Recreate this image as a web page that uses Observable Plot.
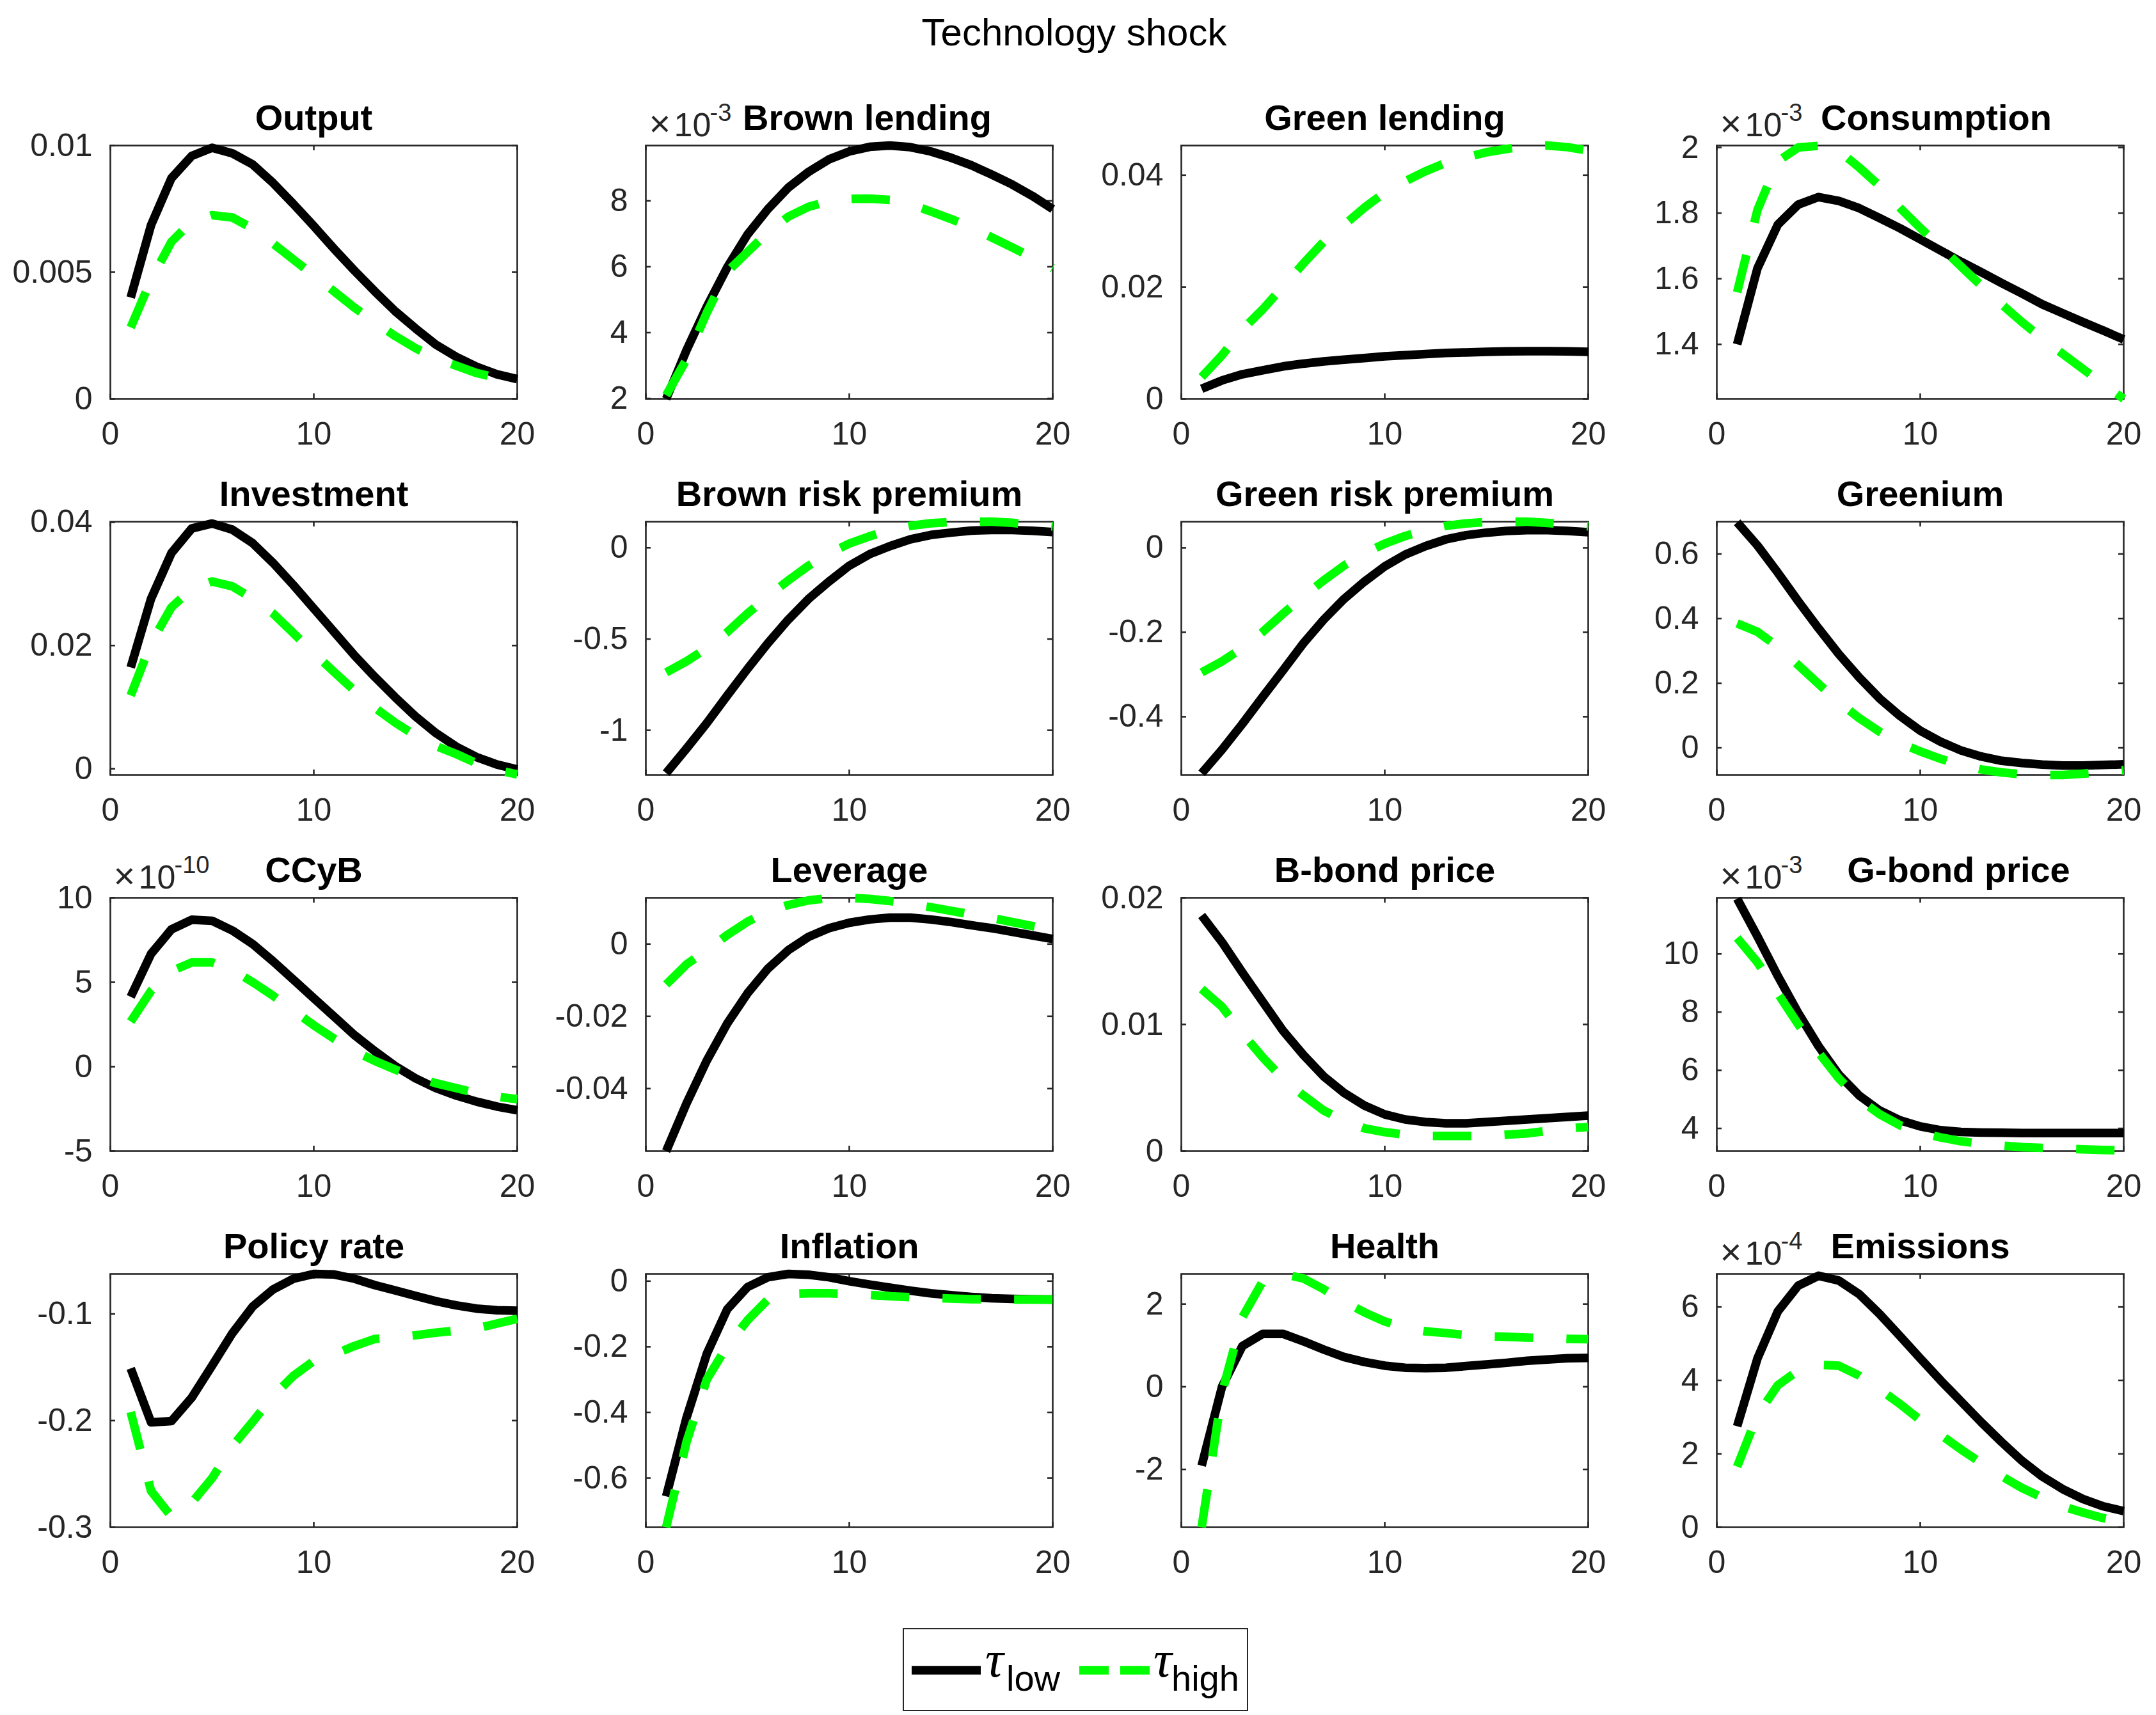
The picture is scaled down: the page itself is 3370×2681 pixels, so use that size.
<!DOCTYPE html>
<html>
<head>
<meta charset="utf-8">
<script src="https://cdn.jsdelivr.net/npm/d3@7"></script>
<script src="https://cdn.jsdelivr.net/npm/@observablehq/plot@0.6"></script>
<style>
html, body { margin: 0; padding: 0; background: #fff; }
#fig { position: relative; width: 3370px; height: 2681px; background: #fff; overflow: hidden; font-family: "Liberation Sans", Arial, sans-serif; }
</style>
</head>
<body>
<div id="fig"></div>
<script>
// ---------------- data ----------------
const periods = [1,2,3,4,5,6,7,8,9,10,11,12,13,14,15,16,17,18,19,20];
const xTicks = [0, 10, 20];

const titles = ["Output","Brown lending","Green lending","Consumption",
  "Investment","Brown risk premium","Green risk premium","Greenium",
  "CCyB","Leverage","B-bond price","G-bond price",
  "Policy rate","Inflation","Health","Emissions"];

// axis exponent (values of those panels are given in units of 10^exponent)
const exponents = [null,-3,null,-3, null,null,null,null, -10,null,null,-3, null,null,null,-4];

const yTicks = [
  [0,0.005,0.01],[2,4,6,8],[0,0.02,0.04],[1.4,1.6,1.8,2],
  [0,0.02,0.04],[-1,-0.5,0],[-0.4,-0.2,0],[0,0.2,0.4,0.6],
  [-5,0,5,10],[-0.04,-0.02,0],[0,0.01,0.02],[4,6,8,10],
  [-0.3,-0.2,-0.1],[-0.6,-0.4,-0.2,0],[-2,0,2],[0,2,4,6]
];
const yLimits = [
  [0,0.01],[1.99,9.68],[0,0.0453],[1.234,2.006],
  [-0.001,0.0401],[-1.245,0.143],[-0.538,0.062],[-0.084,0.70],
  [-5,10],[-0.0573,0.0128],[0,0.02],[3.22,11.93],
  [-0.3,-0.0625],[-0.75,0.022],[-3.4,2.73],[0,6.9]
];

// tau_low (black solid)
const outputLow = [0.0040,0.00686,0.00871,0.00959,0.00991,0.00969,0.00925,0.00852,0.00769,0.00682,0.00592,0.00506,0.00424,0.00346,0.00278,0.00214,0.00166,0.00127,0.00097,0.00078];
const brownLendLow = [1.99,3.47,4.79,5.98,6.98,7.75,8.40,8.88,9.26,9.50,9.64,9.68,9.63,9.50,9.31,9.08,8.80,8.50,8.15,7.75];
const greenLendLow = [0.0018,0.0033,0.0044,0.0051,0.0058,0.0063,0.0067,0.0070,0.0073,0.0076,0.0078,0.0080,0.0082,0.0083,0.0084,0.0085,0.00853,0.00853,0.0085,0.0084];
const consLow = [1.40,1.632,1.765,1.826,1.849,1.837,1.815,1.785,1.754,1.72,1.686,1.652,1.62,1.587,1.555,1.522,1.495,1.468,1.442,1.415];
const investLow = [0.01645,0.0276,0.035,0.039,0.0398,0.0388,0.0366,0.0334,0.0298,0.026,0.0222,0.0184,0.0149,0.0116,0.0085,0.0058,0.0036,0.0019,0.0007,-0.0001];
const brownRpLow = [-1.235,-1.10,-0.96,-0.81,-0.663,-0.523,-0.394,-0.28,-0.185,-0.098,-0.035,0.009,0.046,0.07,0.083,0.094,0.097,0.097,0.093,0.086];
const greenRpLow = [-0.534,-0.478,-0.417,-0.353,-0.29,-0.226,-0.17,-0.121,-0.08,-0.044,-0.016,0.004,0.02,0.030,0.036,0.040,0.042,0.042,0.040,0.037];
const greeniumLow = [0.698,0.626,0.542,0.454,0.370,0.29,0.218,0.153,0.099,0.053,0.019,-0.008,-0.027,-0.04,-0.047,-0.052,-0.055,-0.055,-0.053,-0.051];
const ccybLow = [4.13,6.68,8.13,8.7,8.64,8.06,7.26,6.24,5.15,4.05,2.96,1.87,0.92,0.04,-0.69,-1.27,-1.71,-2.07,-2.36,-2.58];
const leverageLow = [-0.0573,-0.0441,-0.0322,-0.022,-0.0136,-0.0068,-0.0017,0.002,0.0044,0.0059,0.0068,0.0073,0.0073,0.0068,0.0061,0.0052,0.0044,0.0034,0.0024,0.0014];
const bBondLow = [0.0186,0.0165,0.0141,0.0118,0.0095,0.0076,0.0059,0.0046,0.0036,0.0029,0.0025,0.0023,0.0022,0.0022,0.0023,0.0024,0.0025,0.0026,0.0027,0.0028];
const gBondLow = [11.9,10.6,9.24,7.97,6.83,5.85,5.13,4.62,4.28,4.07,3.94,3.88,3.86,3.85,3.84,3.84,3.84,3.84,3.84,3.84];
const policyLow = [-0.151,-0.2016,-0.2005,-0.1785,-0.1485,-0.118,-0.093,-0.077,-0.067,-0.0625,-0.063,-0.067,-0.073,-0.078,-0.083,-0.088,-0.092,-0.095,-0.0965,-0.097];
const inflationLow = [-0.656,-0.416,-0.221,-0.0856,-0.018,0.012,0.022,0.0195,0.012,0.0,-0.0105,-0.02,-0.029,-0.037,-0.043,-0.048,-0.052,-0.054,-0.0555,-0.056];
const healthLow = [-1.91,0.0,0.985,1.28,1.28,1.10,0.90,0.72,0.60,0.51,0.46,0.45,0.46,0.50,0.54,0.58,0.63,0.66,0.69,0.70];
const emissionsLow = [2.75,4.6,5.88,6.58,6.85,6.72,6.35,5.81,5.21,4.6,4.0,3.43,2.86,2.32,1.81,1.38,1.04,0.77,0.57,0.44];

// tau_high (green dashed)
const outputHigh = [0.00282,0.0047,0.0062,0.0070,0.00725,0.00716,0.00672,0.00613,0.0055,0.00487,0.00424,0.0036,0.00302,0.00248,0.002,0.00161,0.00131,0.00102,0.00083,0.00068];
const brownLendHigh = [2.10,3.19,4.61,5.85,6.45,7.04,7.52,7.82,7.99,8.06,8.07,8.03,7.90,7.68,7.45,7.19,6.89,6.59,6.28,5.95];
const greenLendHigh = [0.0039,0.0078,0.0124,0.0160,0.0201,0.0242,0.0281,0.0311,0.0342,0.0369,0.0389,0.0407,0.0422,0.0432,0.0441,0.0447,0.0452,0.0453,0.0450,0.0444];
const consHigh = [1.559,1.81,1.958,2.0,2.005,1.99,1.939,1.883,1.816,1.755,1.697,1.638,1.579,1.522,1.468,1.418,1.371,1.325,1.279,1.234];
const investHigh = [0.0119,0.0204,0.0262,0.0292,0.0304,0.0296,0.0276,0.0252,0.022,0.0188,0.0157,0.0127,0.0099,0.0075,0.0054,0.0037,0.0024,0.0009,-0.0002,-0.0009];
const brownRpHigh = [-0.683,-0.622,-0.55,-0.462,-0.36,-0.266,-0.179,-0.098,-0.031,0.023,0.063,0.097,0.12,0.134,0.141,0.143,0.143,0.137,0.126,0.117];
const greenRpHigh = [-0.295,-0.269,-0.237,-0.199,-0.156,-0.115,-0.077,-0.042,-0.013,0.01,0.028,0.042,0.052,0.058,0.061,0.062,0.062,0.059,0.055,0.051];
const greeniumHigh = [0.385,0.359,0.313,0.256,0.198,0.141,0.092,0.05,0.015,-0.011,-0.034,-0.053,-0.067,-0.076,-0.082,-0.084,-0.084,-0.08,-0.075,-0.069];
const ccybHigh = [2.67,4.49,5.66,6.17,6.17,5.73,5.0,4.2,3.32,2.45,1.65,0.92,0.34,-0.17,-0.61,-0.98,-1.27,-1.56,-1.78,-1.92];
const leverageHigh = [-0.0112,-0.0056,-0.0017,0.0025,0.0062,0.009,0.0108,0.0121,0.0127,0.0128,0.0125,0.0119,0.0111,0.0102,0.0092,0.0082,0.0072,0.0061,0.0050,0.0038];
const bBondHigh = [0.0128,0.0114,0.0093,0.0074,0.0057,0.0044,0.0032,0.0024,0.0018,0.0015,0.0013,0.0012,0.0012,0.0012,0.0012,0.0013,0.0014,0.0016,0.0018,0.0019];
const gBondHigh = [10.55,9.71,8.64,7.58,6.61,5.72,5.0,4.49,4.11,3.86,3.69,3.56,3.47,3.41,3.36,3.33,3.31,3.28,3.26,3.25];
const policyHigh = [-0.192,-0.266,-0.29,-0.277,-0.254,-0.224,-0.201,-0.177,-0.158,-0.144,-0.138,-0.130,-0.1235,-0.122,-0.120,-0.1175,-0.1157,-0.1136,-0.109,-0.1046];
const inflationHigh = [-0.75,-0.49,-0.299,-0.197,-0.119,-0.056,-0.039,-0.037,-0.037,-0.039,-0.042,-0.046,-0.049,-0.051,-0.053,-0.055,-0.0555,-0.056,-0.056,-0.056];
const healthHigh = [-3.4,-0.15,1.68,2.55,2.73,2.62,2.36,2.06,1.80,1.58,1.43,1.34,1.30,1.25,1.22,1.21,1.19,1.18,1.16,1.15];
const emissionsHigh = [1.65,3.06,3.87,4.27,4.43,4.40,4.13,3.76,3.36,2.92,2.52,2.12,1.75,1.39,1.07,0.81,0.57,0.40,0.25,0.13];

const lowSeries = [outputLow,brownLendLow,greenLendLow,consLow,investLow,brownRpLow,greenRpLow,greeniumLow,
  ccybLow,leverageLow,bBondLow,gBondLow,policyLow,inflationLow,healthLow,emissionsLow];
const highSeries = [outputHigh,brownLendHigh,greenLendHigh,consHigh,investHigh,brownRpHigh,greenRpHigh,greeniumHigh,
  ccybHigh,leverageHigh,bBondHigh,gBondHigh,policyHigh,inflationHigh,healthHigh,emissionsHigh];

const suptitle = "Technology shock";
const legendLabels = [["τ","low"],["τ","high"]];

// ---------------- layout / style ----------------
const AW = 636, AH = 396;
const colLeft = [172, 1009, 1846, 2683];
const rowTop = [227, 815, 1403, 1991];
const M = {left: 172, right: 50, top: 130, bottom: 100};
const titleShift = [0,28,0,25, 0,0,0,0, 0,0,0,60, 0,0,0,0];
const AX = "#262626";
const FONT = "'Liberation Sans', Arial, Helvetica, sans-serif";
const LW = 13.5;
const DASH = "60,52";
const fig = document.getElementById("fig");

// super title
const st = document.createElementNS("http://www.w3.org/2000/svg", "svg");
st.setAttribute("width", 3370); st.setAttribute("height", 110);
st.style.position = "absolute"; st.style.left = "0px"; st.style.top = "0px";
const stt = document.createElementNS("http://www.w3.org/2000/svg", "text");
stt.setAttribute("x", 1679); stt.setAttribute("y", 71);
stt.setAttribute("text-anchor", "middle");
stt.setAttribute("font-family", FONT); stt.setAttribute("font-size", 60);
stt.setAttribute("fill", "#000");
stt.textContent = suptitle;
st.appendChild(stt);
fig.appendChild(st);

titles.forEach((title, i) => {
  const r = Math.floor(i / 4), c = i % 4;
  const low = lowSeries[i].map((v, k) => ({t: periods[k], v}));
  const high = highSeries[i].map((v, k) => ({t: periods[k], v}));
  const ticks = yTicks[i];
  const exp = exponents[i];
  const marks = [
    Plot.frame({stroke: AX, strokeWidth: 2.6}),
    Plot.axisX({ticks: xTicks, tickSize: 0, tickPadding: 36, tickFormat: d => String(d), fontSize: 50, color: AX, label: null}),
    Plot.axisY({ticks, tickSize: 0, tickPadding: 28, tickFormat: d => String(d), fontSize: 50, color: AX, label: null}),
    Plot.tickY(ticks, {y: d => d, stroke: AX, strokeWidth: 2.6, insetRight: AW - 8}),
    Plot.tickY(ticks, {y: d => d, stroke: AX, strokeWidth: 2.6, insetLeft: AW - 8}),
    Plot.tickX(xTicks, {x: d => d, stroke: AX, strokeWidth: 2.6, insetTop: AH - 8}),
    Plot.tickX(xTicks, {x: d => d, stroke: AX, strokeWidth: 2.6, insetBottom: AH - 8}),
    Plot.line(low, {x: "t", y: "v", stroke: "#000000", strokeWidth: LW, strokeLinejoin: "round", strokeLinecap: "butt"}),
    Plot.line(high, {x: "t", y: "v", stroke: "#00ff00", strokeWidth: LW, strokeDasharray: DASH, strokeLinejoin: "round", strokeLinecap: "butt"}),
    Plot.text([title], {text: d => d, frameAnchor: "top", dy: -25, dx: titleShift[i], lineAnchor: "bottom",
      fontSize: 56, fontWeight: "bold", fill: "#000"})
  ];
  if (exp !== null) {
    marks.push(
      Plot.text(["×"], {text: d => d, frameAnchor: "top-left", textAnchor: "start", dx: 5, dy: -15, lineAnchor: "bottom", fontSize: 58, fill: AX}),
      Plot.text(["10"], {text: d => d, frameAnchor: "top-left", textAnchor: "start", dx: 44, dy: -15, lineAnchor: "bottom", fontSize: 52, fill: AX}),
      Plot.text([String(exp)], {text: d => d, frameAnchor: "top-left", textAnchor: "start", dx: 100, dy: -39, lineAnchor: "bottom", fontSize: 38, fill: AX})
    );
  }
  const chart = Plot.plot({
    width: AW + M.left + M.right,
    height: AH + M.top + M.bottom,
    marginLeft: M.left, marginRight: M.right, marginTop: M.top, marginBottom: M.bottom,
    style: {background: "transparent", fontFamily: FONT, fontSize: "50px", overflow: "visible", maxWidth: "none"},
    x: {domain: [0, 20]},
    y: {domain: yLimits[i]},
    marks
  });
  chart.style.position = "absolute";
  chart.style.left = (colLeft[c] - M.left) + "px";
  chart.style.top = (rowTop[r] - M.top) + "px";
  fig.appendChild(chart);
});

// legend
const lg = document.createElement("div");
lg.style.cssText = "position:absolute;left:1411px;top:2545px;width:536px;height:126px;border:2.6px solid #262626;background:#fff;";
lg.innerHTML = `<svg width="536" height="126" style="position:absolute;left:0;top:0;overflow:visible">
  <line x1="12" x2="120" y1="64" y2="64" stroke="#000" stroke-width="${LW}"/>
  <text x="127" y="74" font-family="'Liberation Serif', serif" font-style="italic" font-size="80" fill="#000">${legendLabels[0][0]}</text>
  <text x="160" y="96" font-family="${FONT}" font-size="56" fill="#000">${legendLabels[0][1]}</text>
  <line x1="274" x2="384" y1="64" y2="64" stroke="#00ff00" stroke-width="${LW}" stroke-dasharray="46,18"/>
  <text x="390" y="74" font-family="'Liberation Serif', serif" font-style="italic" font-size="80" fill="#000">${legendLabels[1][0]}</text>
  <text x="418" y="96" font-family="${FONT}" font-size="56" fill="#000">${legendLabels[1][1]}</text>
</svg>`;
fig.appendChild(lg);
</script>
</body>
</html>
